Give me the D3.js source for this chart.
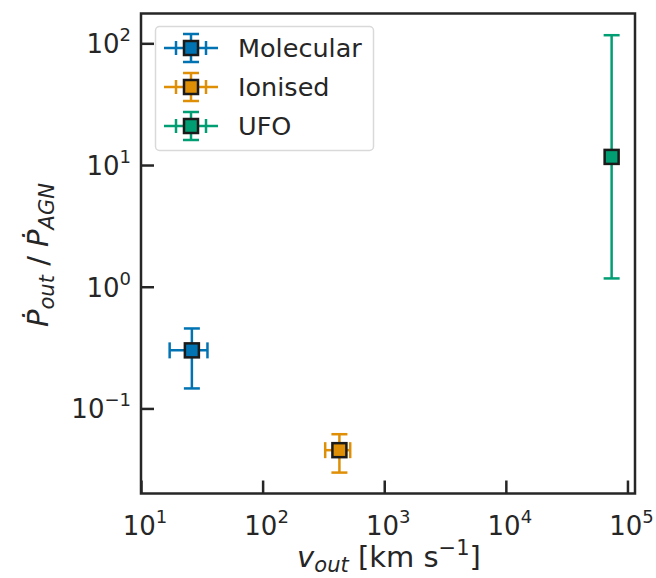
<!DOCTYPE html>
<html>
<head>
<meta charset="utf-8">
<script src="https://cdn.jsdelivr.net/npm/d3@7"></script>
<style>
  body { margin: 0; background: #fff; }
  svg { display: block; font-family: "DejaVu Sans", sans-serif; }
</style>
</head>
<body>
<svg id="chart" width="656" height="578"></svg>
<script>
// Outflow populations: velocity and momentum-rate ratio, with asymmetric errors
const seriesNames = ["Molecular", "Ionised", "UFO"];
const seriesColors = ["#0173b2", "#de8f05", "#029e73"];
const vOut   = [26.2, 428, 74100];
const vLow   = [17.2, 327, 74100];
const vHigh  = [35.2, 525, 74100];
const pRatio = [0.30, 0.0454, 11.66];
const pLow   = [0.146, 0.0297, 1.17];
const pHigh  = [0.454, 0.0614, 116.6];
const xTickExps = [1, 2, 3, 4, 5];
const yTickExps = [-1, 0, 1, 2];

const svg = d3.select("#chart");
const ink = "#262626";
const m = { left: 141, right: 635, top: 13.5, bottom: 493.5 };

const x = d3.scaleLog().domain([10, Math.pow(10, 5.062)]).range([m.left, m.right]);
const y = d3.scaleLog().domain([0.02, Math.pow(10, 2.245)]).range([m.bottom, m.top]);

// Inward major ticks
const xAxis = d3.axisBottom(x).tickValues(xTickExps.map(e => Math.pow(10, e)))
  .tickSizeInner(-13).tickSizeOuter(0).tickFormat("");
const yAxis = d3.axisLeft(y).tickValues(yTickExps.map(e => Math.pow(10, e)))
  .tickSizeInner(-13).tickSizeOuter(0).tickFormat("");

const gx = svg.append("g").attr("transform", `translate(0,${m.bottom})`).call(xAxis);
const gy = svg.append("g").attr("transform", `translate(${m.left},0)`).call(yAxis);
[gx, gy].forEach(g => {
  g.select(".domain").remove();
  g.selectAll(".tick line").attr("stroke", ink).attr("stroke-width", 2.5);
});

// Frame
svg.append("rect")
  .attr("x", m.left).attr("y", m.top)
  .attr("width", m.right - m.left).attr("height", m.bottom - m.top)
  .attr("fill", "none").attr("stroke", ink).attr("stroke-width", 2.5);

// Power-of-ten tick labels
function powerLabel(sel, exp) {
  sel.append("tspan").text("10");
  sel.append("tspan").attr("dy", -12).attr("font-size", 18)
    .text(exp < 0 ? "\u2212" + Math.abs(exp) : String(exp));
}
xTickExps.forEach(e => {
  const t = svg.append("text").attr("x", x(Math.pow(10, e)) + 4).attr("y", 535)
    .attr("text-anchor", "middle").attr("font-size", 26).attr("fill", ink);
  powerLabel(t, e);
});
yTickExps.forEach(e => {
  const t = svg.append("text").attr("x", 131).attr("y", y(Math.pow(10, e)) + 10)
    .attr("text-anchor", "end").attr("font-size", 26).attr("fill", ink);
  powerLabel(t, e);
});

// Axis titles
const xl = svg.append("text").attr("x", 389).attr("y", 567)
  .attr("text-anchor", "middle").attr("font-size", 29).attr("fill", ink);
xl.append("tspan").attr("font-style", "italic").text("v");
xl.append("tspan").attr("font-style", "italic").attr("font-size", 21).attr("dy", 5).text("out");
xl.append("tspan").attr("dy", -5).text(" [km s");
xl.append("tspan").attr("font-size", 21).attr("dy", -12).text("\u22121");
xl.append("tspan").attr("dy", 12).text("]");

const yl = svg.append("text")
  .attr("transform", "translate(48,255) rotate(-90)")
  .attr("text-anchor", "middle").attr("font-size", 29).attr("fill", ink);
yl.append("tspan").attr("font-style", "italic").text("\u1E56");
yl.append("tspan").attr("font-style", "italic").attr("font-size", 21).attr("dy", 6).text("out");
yl.append("tspan").attr("dy", -6).text(" / ");
yl.append("tspan").attr("font-style", "italic").text("\u1E56");
yl.append("tspan").attr("font-style", "italic").attr("font-size", 21).attr("dy", 6).text("AGN");

// Error bars and markers
const cap = 8, mk = 14;
const plot = svg.append("g");
seriesNames.forEach((name, i) => {
  const g = plot.append("g");
  const c = seriesColors[i];
  const cx = x(vOut[i]), cy = y(pRatio[i]);
  const x0 = x(vLow[i]), x1 = x(vHigh[i]);
  const y0 = y(pLow[i]), y1 = y(pHigh[i]);
  const line = (a, b, c2, d) => g.append("line").attr("x1", a).attr("y1", b).attr("x2", c2).attr("y2", d)
    .attr("stroke", c).attr("stroke-width", 2.5);
  if (x1 - x0 > 0.5) {
    line(x0, cy, x1, cy);
    line(x0, cy - cap, x0, cy + cap);
    line(x1, cy - cap, x1, cy + cap);
  }
  line(cx, y0, cx, y1);
  line(cx - cap, y0, cx + cap, y0);
  line(cx - cap, y1, cx + cap, y1);
  g.append("rect").attr("x", cx - mk / 2).attr("y", cy - mk / 2)
    .attr("width", mk).attr("height", mk)
    .attr("fill", c).attr("stroke", "#1a1a1a").attr("stroke-width", 2.5);
});

// Legend
const lg = svg.append("g");
lg.append("rect").attr("x", 155.5).attr("y", 26.5).attr("width", 218).attr("height", 124)
  .attr("rx", 4).attr("fill", "#fff").attr("fill-opacity", 0.8)
  .attr("stroke", "#d9d9d9").attr("stroke-width", 1.5);
seriesNames.forEach((name, i) => {
  const c = seriesColors[i];
  const cy = 48 + i * 39, cx = 191;
  const row = lg.append("g");
  const line = (a, b, c2, d) => row.append("line").attr("x1", a).attr("y1", b).attr("x2", c2).attr("y2", d)
    .attr("stroke", c).attr("stroke-width", 2.5);
  line(164, cy, 218, cy);
  line(176, cy - 7, 176, cy + 7);
  line(206, cy - 7, 206, cy + 7);
  line(cx, cy - 14, cx, cy + 14);
  line(cx - 8, cy - 14, cx + 8, cy - 14);
  line(cx - 8, cy + 14, cx + 8, cy + 14);
  row.append("rect").attr("x", cx - 7).attr("y", cy - 7).attr("width", 14).attr("height", 14)
    .attr("fill", c).attr("stroke", "#1a1a1a").attr("stroke-width", 2.5);
  row.append("text").attr("x", 238).attr("y", cy + 9).attr("font-size", 25.5)
    .attr("fill", ink).text(name);
});
</script>
</body>
</html>
